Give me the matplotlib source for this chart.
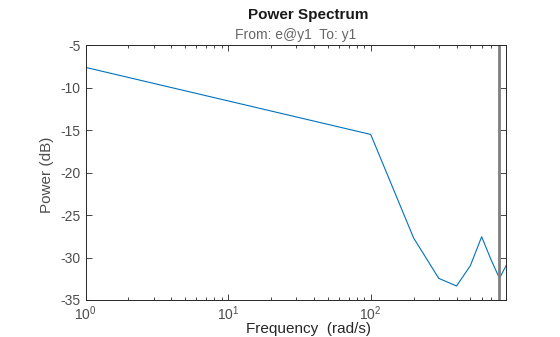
import matplotlib
matplotlib.use("Agg")
import matplotlib.pyplot as plt
from matplotlib.ticker import LogLocator, FixedLocator

plt.rcParams['font.family'] = ['Liberation Sans', 'DejaVu Sans']
plt.rcParams['axes.unicode_minus'] = False

freq = [1, 100, 200, 300, 400, 500, 600, 700, 800, 900]
power_db = [-7.6, -15.5, -27.7, -32.45, -33.35, -30.95, -27.55, -30.3, -32.45, -30.8]
nyquist = 799
xlim = (1, 889)
ylim = (-35, -5)
yticks = [-35, -30, -25, -20, -15, -10, -5]

gray = '#4d4d4d'
fig = plt.figure(figsize=(5.6, 3.37), dpi=100)
ax = fig.add_axes([0.1527, 0.1098, 0.9036 - 0.1527, 0.8656 - 0.1098])
ax.semilogx(freq, power_db, color='#0072BD', lw=0.8)
ax.axvline(nyquist, color='#7f7f7f', lw=2.0)
ax.set_xlim(*xlim)
ax.set_ylim(*ylim)
ax.yaxis.set_major_locator(FixedLocator(yticks))
ax.xaxis.set_major_locator(LogLocator(base=10, numticks=10))
ax.xaxis.set_minor_locator(LogLocator(base=10, subs=range(2, 10), numticks=10))
ax.tick_params(which='both', direction='in', top=True, right=True, colors='#262626',
               labelcolor=gray, labelsize=10)
ax.tick_params(which='major', length=4, width=0.6)
ax.tick_params(which='minor', length=2.5, width=0.6)
for s in ax.spines.values():
    s.set_color('#262626')
    s.set_linewidth(0.7)

fig.text(47.5 / 560, 1 - 175 / 337, 'Power (dB)', ha='center', va='center',
         rotation=90, fontsize=11, color=gray)
fig.text(308 / 560, 1 - 329.5 / 337, 'Frequency  (rad/s)', ha='center', va='center',
         fontsize=11, color='#262626')
fig.text(308 / 560, 1 - 15 / 337, 'Power Spectrum', ha='center', va='center',
         fontsize=11, fontweight='bold', color='#1a1a1a')
fig.text(296 / 560, 1 - 35 / 337, 'From: e@y1  To: y1', ha='center', va='center',
         fontsize=10, color='#666666')

fig.savefig('out.png', dpi=100)
